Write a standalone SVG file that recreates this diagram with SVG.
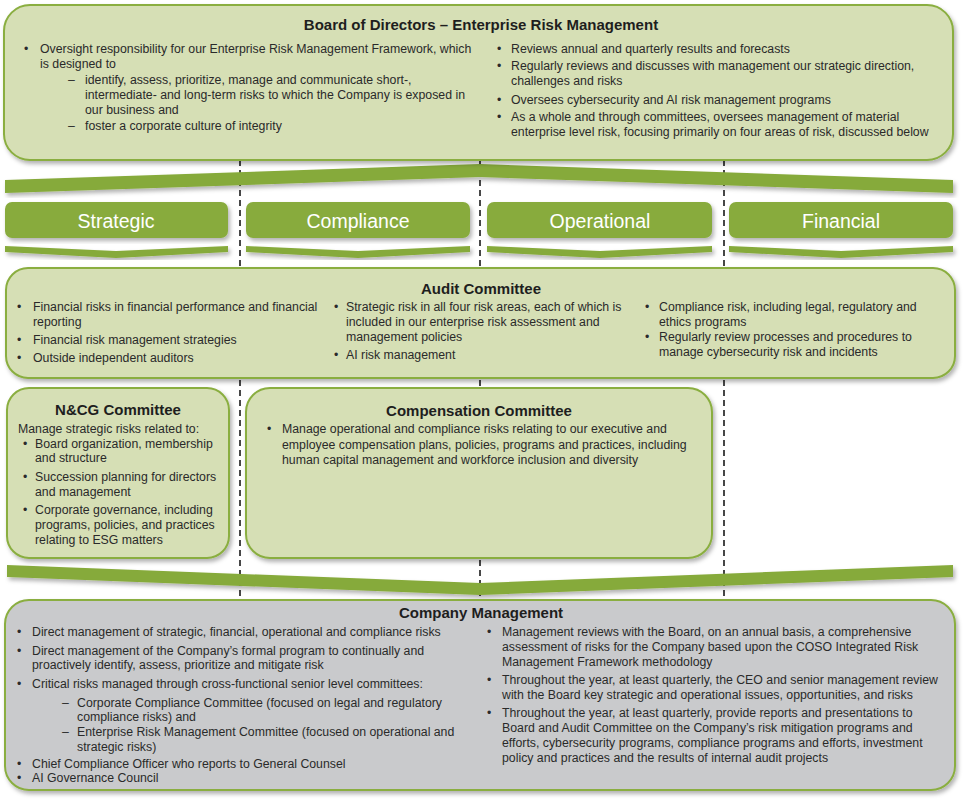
<svg xmlns="http://www.w3.org/2000/svg" width="965" height="800" viewBox="0 0 965 800">
<defs>
<filter id="sh" x="-5%" y="-5%" width="110%" height="120%">
<feDropShadow dx="2" dy="3" stdDeviation="2" flood-color="#000" flood-opacity="0.3"/>
</filter>
<style>
.box{fill:#d6dfb5;stroke:#8aae40;stroke-width:2;filter:url(#sh)}
.gbox{fill:#c9cacc;stroke:#8aae40;stroke-width:2;filter:url(#sh)}
.btn{fill:#88ab3d;filter:url(#sh)}
.band{fill:#86aa3a;filter:url(#sh)}
.dash{stroke:#1a1a1a;stroke-width:1.6;stroke-dasharray:6 4;fill:none}
text{font-family:"Liberation Sans",Arial,sans-serif;fill:#2a2a2a;font-size:12.3px}
.t{font-size:15px;font-weight:bold;text-anchor:middle;fill:#1e1e1e}
.c{font-size:19.5px;fill:#fff;text-anchor:middle}
</style>
</defs>
<rect width="965" height="800" fill="#fff"/>
<g id="connectors">
<line class="dash" x1="240" y1="160" x2="240" y2="602"/>
<line class="dash" x1="480" y1="160" x2="480" y2="602"/>
<line class="dash" x1="724" y1="160" x2="724" y2="602"/>
<polygon class="band" points="5,180 480,164 953,180 953,193 480,177 5,193"/>
<polygon class="band" points="5,246 116,251 228,246 228,252 116,258 5,252"/>
<polygon class="band" points="246,246 358,251 470,246 470,252 358,258 246,252"/>
<polygon class="band" points="487,246 600,251 712,246 712,252 600,258 487,252"/>
<polygon class="band" points="729,246 841,251 953,246 953,252 841,258 729,252"/>
<polygon class="band" points="7,565 480,583 953,565 953,577 480,595 7,577"/>
</g>
<g id="board">
<rect class="box" x="4" y="5" width="949" height="155" rx="26"/>
<text class="t" x="481" y="30">Board of Directors – Enterprise Risk Management</text>
<text x="24" y="53">•</text>
<text x="40" y="53">Oversight responsibility for our Enterprise Risk Management Framework, which</text>
<text x="40" y="68">is designed to</text>
<text x="68" y="84">–</text>
<text x="85" y="84">identify, assess, prioritize, manage and communicate short-,</text>
<text x="85" y="99">intermediate- and long-term risks to which the Company is exposed in</text>
<text x="85" y="114">our business and</text>
<text x="68" y="130">–</text>
<text x="85" y="130">foster a corporate culture of integrity</text>
<text x="497" y="53">•</text>
<text x="511" y="53">Reviews annual and quarterly results and forecasts</text>
<text x="497" y="70">•</text>
<text x="511" y="70">Regularly reviews and discusses with management our strategic direction,</text>
<text x="511" y="85">challenges and risks</text>
<text x="497" y="104">•</text>
<text x="511" y="104">Oversees cybersecurity and AI risk management programs</text>
<text x="497" y="121">•</text>
<text x="511" y="121">As a whole and through committees, oversees management of material</text>
<text x="511" y="136">enterprise level risk, focusing primarily on four areas of risk, discussed below</text>
</g>
<g id="strategic">
<rect class="btn" x="5" y="202" width="223" height="36" rx="7"/>
<text class="c" x="116" y="228">Strategic</text>
</g>
<g id="compliance">
<rect class="btn" x="246" y="202" width="224" height="36" rx="7"/>
<text class="c" x="358" y="228">Compliance</text>
</g>
<g id="operational">
<rect class="btn" x="487" y="202" width="225" height="36" rx="7"/>
<text class="c" x="600" y="228">Operational</text>
</g>
<g id="financial">
<rect class="btn" x="729" y="202" width="224" height="36" rx="7"/>
<text class="c" x="841" y="228">Financial</text>
</g>
<g id="audit">
<rect class="box" x="6" y="268" width="949" height="110" rx="22"/>
<text class="t" x="481" y="294">Audit Committee</text>
<text x="17" y="311">•</text>
<text x="33" y="311">Financial risks in financial performance and financial</text>
<text x="33" y="326">reporting</text>
<text x="17" y="344">•</text>
<text x="33" y="344">Financial risk management strategies</text>
<text x="17" y="362">•</text>
<text x="33" y="362">Outside independent auditors</text>
<text x="334" y="311">•</text>
<text x="346" y="311">Strategic risk in all four risk areas, each of which is</text>
<text x="346" y="326">included in our enterprise risk assessment and</text>
<text x="346" y="341">management policies</text>
<text x="334" y="359">•</text>
<text x="346" y="359">AI risk management</text>
<text x="645" y="311">•</text>
<text x="659" y="311">Compliance risk, including legal, regulatory and</text>
<text x="659" y="326">ethics programs</text>
<text x="645" y="341">•</text>
<text x="659" y="341">Regularly review processes and procedures to</text>
<text x="659" y="356">manage cybersecurity risk and incidents</text>
</g>
<g id="ncg">
<rect class="box" x="7" y="388" width="222" height="170" rx="22"/>
<text class="t" x="118" y="415">N&amp;CG Committee</text>
<text x="18" y="433">Manage strategic risks related to:</text>
<text x="23" y="448">•</text>
<text x="35" y="448">Board organization, membership</text>
<text x="35" y="462">and structure</text>
<text x="23" y="481">•</text>
<text x="35" y="481">Succession planning for directors</text>
<text x="35" y="496">and management</text>
<text x="23" y="514">•</text>
<text x="35" y="514">Corporate governance, including</text>
<text x="35" y="529">programs, policies, and practices</text>
<text x="35" y="544">relating to ESG matters</text>
</g>
<g id="compensation">
<rect class="box" x="246" y="388" width="466" height="170" rx="24"/>
<text class="t" x="479" y="416">Compensation Committee</text>
<text x="267" y="433">•</text>
<text x="282" y="433">Manage operational and compliance risks relating to our executive and</text>
<text x="282" y="449">employee compensation plans, policies, programs and practices, including</text>
<text x="282" y="464">human capital management and workforce inclusion and diversity</text>
</g>
<g id="management">
<rect class="gbox" x="5" y="600" width="950" height="190" rx="24"/>
<text class="t" x="481" y="618">Company Management</text>
<text x="17" y="636">•</text>
<text x="32" y="636">Direct management of strategic, financial, operational and compliance risks</text>
<text x="17" y="655">•</text>
<text x="32" y="655">Direct management of the Company’s formal program to continually and</text>
<text x="32" y="669">proactively identify, assess, prioritize and mitigate risk</text>
<text x="17" y="688">•</text>
<text x="32" y="688">Critical risks managed through cross-functional senior level committees:</text>
<text x="62" y="707">–</text>
<text x="77" y="707">Corporate Compliance Committee (focused on legal and regulatory</text>
<text x="77" y="721">compliance risks) and</text>
<text x="62" y="736">–</text>
<text x="77" y="736">Enterprise Risk Management Committee (focused on operational and</text>
<text x="77" y="751">strategic risks)</text>
<text x="17" y="768">•</text>
<text x="32" y="768">Chief Compliance Officer who reports to General Counsel</text>
<text x="17" y="782">•</text>
<text x="32" y="782">AI Governance Council</text>
<text x="487" y="636">•</text>
<text x="502" y="636">Management reviews with the Board, on an annual basis, a comprehensive</text>
<text x="502" y="651">assessment of risks for the Company based upon the COSO Integrated Risk</text>
<text x="502" y="666">Management Framework methodology</text>
<text x="487" y="684">•</text>
<text x="502" y="684">Throughout the year, at least quarterly, the CEO and senior management review</text>
<text x="502" y="699">with the Board key strategic and operational issues, opportunities, and risks</text>
<text x="487" y="717">•</text>
<text x="502" y="717">Throughout the year, at least quarterly, provide reports and presentations to</text>
<text x="502" y="732">Board and Audit Committee on the Company’s risk mitigation programs and</text>
<text x="502" y="747">efforts, cybersecurity programs, compliance programs and efforts, investment</text>
<text x="502" y="762">policy and practices and the results of internal audit projects</text>
</g>
</svg>
